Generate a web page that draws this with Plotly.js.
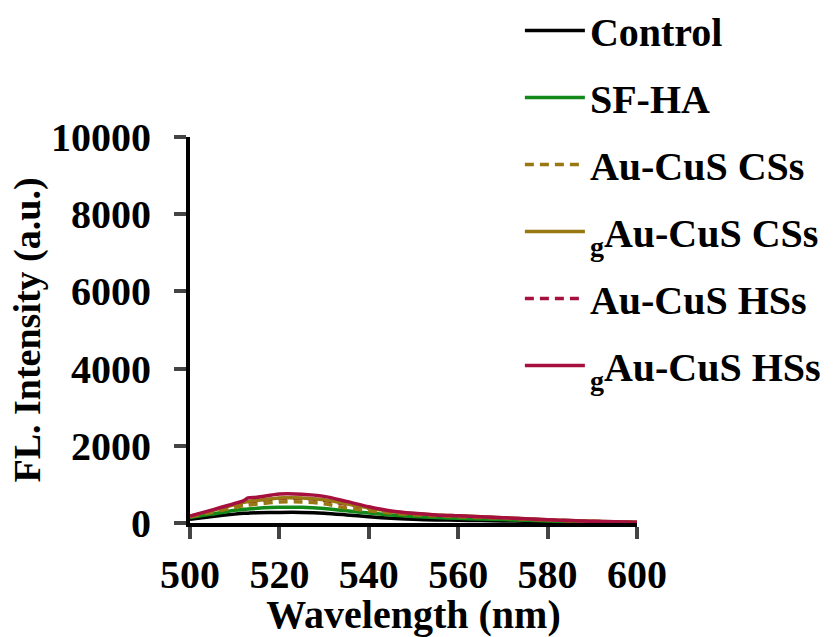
<!DOCTYPE html>
<html>
<head>
<meta charset="utf-8">
<script src="https://cdn.plot.ly/plotly-3.0.1.min.js"></script>
<style>html,body{margin:0;padding:0;background:#fff;}#chart{width:837px;height:637px;}</style>
</head>
<body>
<div id="chart"></div>
<script>
// Wavelength (nm)
const wavelength = [500,505,510,512,513,515,520,525,530,535,540,545,550,555,560,565,570,575,580,585,590,595,600];
// FL. Intensity (a.u.)
const control   = [100,170,230,250,255,265,275,275,255,210,160,120,95,80,70,62,55,45,35,26,18,12,8];
const sfHA      = [140,230,330,355,365,380,405,405,375,315,260,210,170,140,120,104,88,72,55,40,28,18,10];
const auCuS_CS  = [160,280,400,450,465,490,545,545,500,390,320,260,215,185,165,145,122,98,75,56,40,26,15];
const gAuCuS_CS = [175,320,475,535,555,585,650,650,600,500,390,300,245,208,185,160,135,108,82,62,44,30,18];
const auCuS_HS  = [170,310,460,520,540,570,635,635,585,485,380,290,235,200,178,155,130,105,80,60,42,28,17];
const gAuCuS_HS = [180,340,505,580,650,665,750,745,690,560,420,310,250,210,185,160,135,108,82,62,44,30,18];

const names = ["Control","SF-HA","Au-CuS CSs","<sub>g</sub>Au-CuS CSs","Au-CuS HSs","<sub>g</sub>Au-CuS HSs"];
const series = [control, sfHA, auCuS_CS, gAuCuS_CS, auCuS_HS, gAuCuS_HS];
const colors = ["#000000","#13891a","#977812","#977812","#a5103f","#a5103f"];
const dashes = ["solid","solid","9px,6px","solid","9px,6px","solid"];
// drawing order (bottom to top); legend order is kept with legendrank
const drawOrder = [0,1,4,2,3,5];

const traces = drawOrder.map(i=>({
  x: wavelength, y: series[i], name: names[i], type:"scatter", mode:"lines",
  legendgroup: "g"+i, legendrank: i+1,
  line:{color:colors[i], width:3.5, dash:dashes[i], shape:"spline", smoothing:0.8}
}));

const fontFam = "Liberation Serif, Times New Roman, serif";
const layout = {
  width:837, height:637,
  margin:{l:190, r:200, t:137, b:114, autoexpand:false},
  paper_bgcolor:"#fff", plot_bgcolor:"#fff",
  font:{family:fontFam, color:"#000", size:40, weight:"bold"},
  showlegend:true,
  legend:{x:0.738, y:1.36, xanchor:"left", yanchor:"top", traceorder:"grouped", tracegroupgap:12,
          bgcolor:"rgba(0,0,0,0)", itemwidth:60, maxheight:637,
          font:{family:fontFam, size:40, weight:"bold", color:"#000"}},
  xaxis:{range:[500,600], tickvals:[500,520,540,560,580,600], ticks:"outside", ticklen:12, tickwidth:4,
         showline:true, linewidth:4, linecolor:"#000", showgrid:false, zeroline:false,
         tickfont:{family:fontFam, size:40, weight:"bold"}, ticklabelstandoff:1,
         title:{text:"Wavelength (nm)", font:{family:fontFam, size:40, weight:"bold"}, standoff:6}},
  yaxis:{range:[0,10000], tickvals:[0,2000,4000,6000,8000,10000], tickformat:"d", ticks:"outside", ticklen:12, tickwidth:4,
         showline:true, linewidth:4, linecolor:"#000", showgrid:false, zeroline:false,
         tickfont:{family:fontFam, size:40, weight:"bold"}, ticklabelstandoff:15,
         title:{text:"FL. Intensity (a.u.)", font:{family:fontFam, size:38, weight:"bold"}, standoff:0}}
};
Plotly.newPlot("chart", traces, layout, {staticPlot:true});
</script>
</body>
</html>
